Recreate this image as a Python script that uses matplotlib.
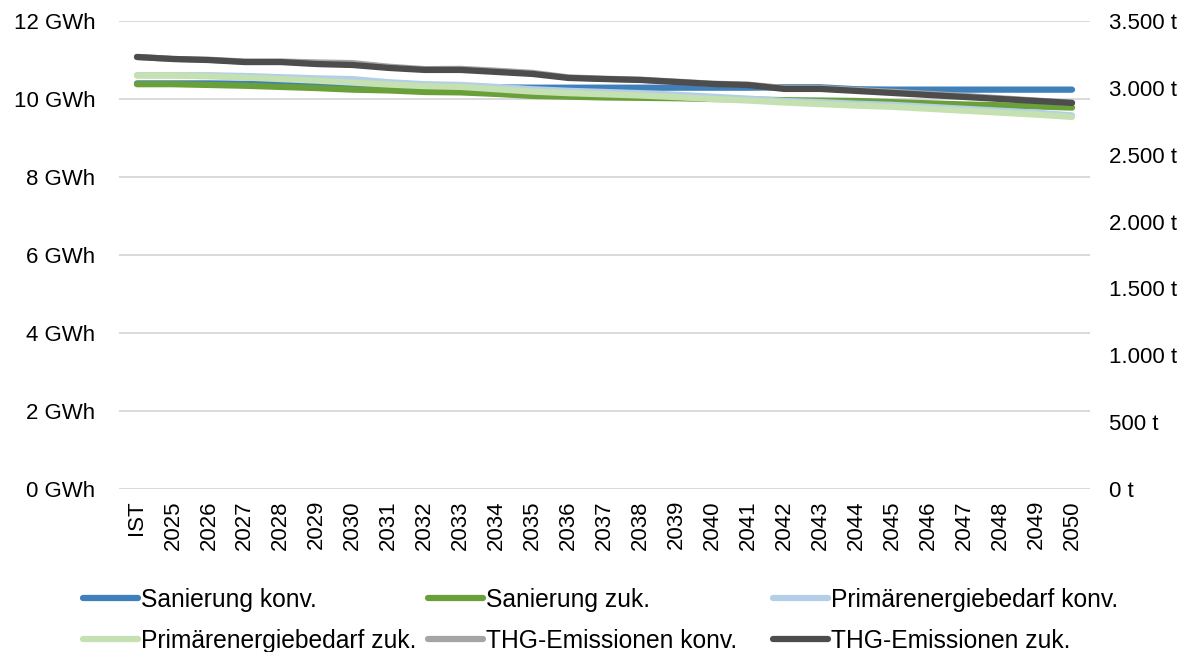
#!/usr/bin/python

import matplotlib
matplotlib.use("Agg")
import matplotlib.pyplot as plt
from matplotlib.ticker import FuncFormatter

plt.rcParams['font.family'] = ['Liberation Sans', 'DejaVu Sans']

# categories
years = ["IST"] + [str(y) for y in range(2025, 2051)]

# left axis (GWh)
sanierung_konv = [10.40, 10.40, 10.40, 10.39, 10.38, 10.36, 10.34, 10.32, 10.31, 10.31,
                  10.30, 10.29, 10.29, 10.29, 10.29, 10.29, 10.29, 10.29, 10.30, 10.30,
                  10.25, 10.24, 10.24, 10.24, 10.24, 10.24, 10.24]
sanierung_zuk = [10.38, 10.38, 10.36, 10.34, 10.31, 10.28, 10.24, 10.22, 10.18, 10.17,
                 10.13, 10.08, 10.06, 10.04, 10.03, 10.02, 10.00, 9.99, 9.97, 9.96,
                 9.95, 9.92, 9.89, 9.86, 9.84, 9.81, 9.78]
primaer_konv = [10.61, 10.61, 10.61, 10.59, 10.56, 10.53, 10.51, 10.43, 10.38, 10.36,
                10.31, 10.25, 10.21, 10.18, 10.15, 10.11, 10.06, 10.01, 9.95, 9.92,
                9.88, 9.85, 9.80, 9.75, 9.70, 9.65, 9.58]
primaer_zuk = [10.60, 10.60, 10.58, 10.55, 10.51, 10.47, 10.42, 10.37, 10.33, 10.31,
               10.25, 10.19, 10.15, 10.12, 10.09, 10.05, 10.00, 9.96, 9.91, 9.87,
               9.83, 9.80, 9.75, 9.70, 9.65, 9.60, 9.54]

# right axis (t)
thg_konv = [3231, 3216, 3210, 3197, 3197, 3190, 3185, 3158, 3140, 3142,
            3128, 3112, 3078, 3068, 3061, 3046, 3031, 3024, 2998, 2998,
            2984, 2970, 2955, 2940, 2922, 2905, 2889]
thg_zuk = [3231, 3216, 3208, 3193, 3193, 3178, 3171, 3149, 3134, 3134,
           3119, 3104, 3074, 3066, 3059, 3044, 3029, 3021, 2992, 2992,
           2977, 2962, 2947, 2932, 2917, 2902, 2887]

labels = ["Sanierung konv.", "Sanierung zuk.", "Primärenergiebedarf konv.",
          "Primärenergiebedarf zuk.", "THG-Emissionen konv.", "THG-Emissionen zuk."]
colors = ["#3F80BB", "#69A03A", "#B3CFE8", "#C5E1B1", "#A5A5A5", "#4D4D4D"]


def de_thousands(v, pos):
    return "{:,.0f} t".format(v).replace(",", ".")


fig = plt.figure(figsize=(11.98, 6.52), dpi=100)
ax = fig.add_axes([119 / 1198, 1 - 489 / 652, (1090 - 119) / 1198, (489 - 21) / 652])
ax2 = ax.twinx()

x = list(range(len(years)))
style = dict(linewidth=4.5, solid_capstyle='round', solid_joinstyle='round')

handles = []
for i, series in enumerate([sanierung_konv, sanierung_zuk, primaer_konv, primaer_zuk]):
    h, = ax.plot(x, series, color=colors[i], label=labels[i], **style)
    handles.append(h)
for i, series in enumerate([thg_konv, thg_zuk]):
    h, = ax2.plot(x, series, color=colors[4 + i], label=labels[4 + i], **style)
    handles.append(h)

ax.set_zorder(ax2.get_zorder() - 1)
ax.patch.set_visible(True)
ax2.patch.set_visible(False)

ax.set_xlim(-0.5, len(years) - 0.5)
ax.set_ylim(0, 12)
ax.set_yticks(range(0, 13, 2))
ax.set_yticklabels(["%d GWh" % v for v in range(0, 13, 2)])
ax.set_xticks(x)
ax.set_xticklabels(years, rotation=90)
ax.grid(axis='y', color='#D9D9D9', linewidth=1.4)
ax.set_axisbelow(True)

ax2.set_ylim(0, 3500)
ax2.set_yticks(range(0, 3501, 500))
ax2.yaxis.set_major_formatter(FuncFormatter(de_thousands))

for a in (ax, ax2):
    for s in a.spines.values():
        s.set_visible(False)
    a.tick_params(length=0, labelsize=16, colors='#000000')
ax.tick_params(axis='y', pad=17)
ax.tick_params(axis='x', pad=8)
ax2.tick_params(axis='y', pad=14)

# legend: three fixed columns, two rows (row-major order as in the original)
col_x = [83, 428, 773]
for c in range(3):
    idx = [c, c + 3]
    leg = fig.legend([handles[i] for i in idx], [labels[i] for i in idx],
                     loc='upper left', bbox_to_anchor=(col_x[c] / 1198, 1 - 588 / 652),
                     ncol=1, frameon=False, fontsize=17.7, borderpad=0, borderaxespad=0,
                     handlelength=2.25, handletextpad=0.1, labelspacing=0.68)

fig.savefig("out.png", dpi=100)
